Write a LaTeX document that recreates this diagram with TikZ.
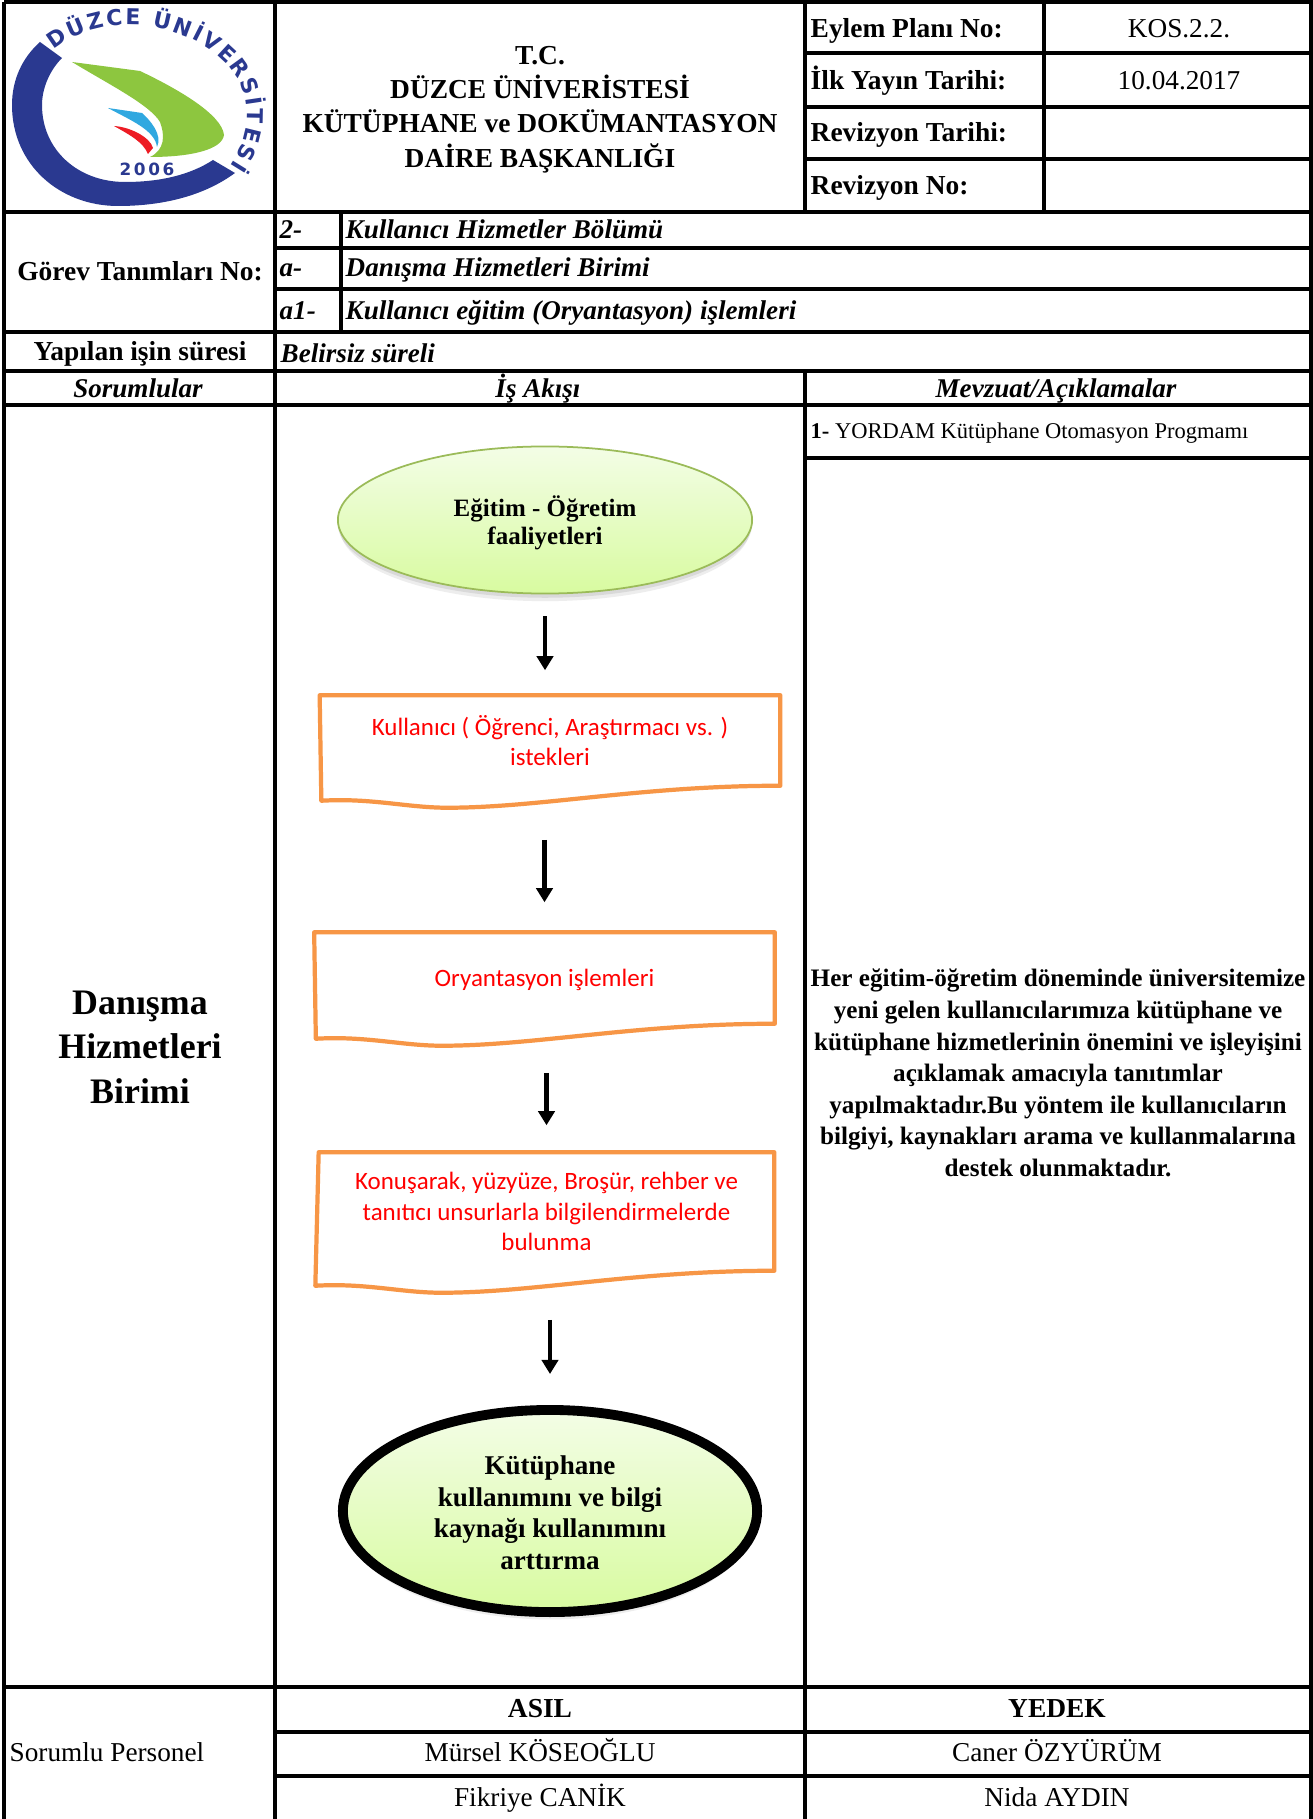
\documentclass[tikz,border=0pt]{standalone}
\usepackage{fontspec}
\setmainfont{Liberation Serif}
\newfontfamily\flowfont{Carlito}
\newfontfamily\logofont{DejaVu Sans}
\newfontfamily\yearfont{DejaVu Sans}[LetterSpace=15]
\usetikzlibrary{shapes.geometric,shadows,calc,arrows.meta,decorations.text}

\definecolor{logoblue}{HTML}{2A3990}
\definecolor{logogreen}{HTML}{8DC63F}
\definecolor{logosky}{HTML}{30A8E0}
\definecolor{logored}{HTML}{ED1C24}
\definecolor{boxorange}{HTML}{F79646}
\definecolor{leaftop}{HTML}{F3FDE6}
\definecolor{leafbot}{HTML}{D8FBA0}
\definecolor{leafline}{HTML}{9BBB59}

\tikzset{
  grid/.style={line width=1pt,black},
  head/.style={font=\fontsize{7.8}{10}\selectfont\bfseries,inner sep=0pt,text height=6.4pt,text depth=1.6pt},
  headit/.style={head,font=\fontsize{7.7}{10}\selectfont\bfseries\itshape},
  plain/.style={font=\fontsize{7.75}{10}\selectfont,inner sep=0pt,text height=6.4pt,text depth=1.6pt},
  startend/.style={ellipse,top color=leaftop,bottom color=leafbot,align=center,
    drop shadow={shadow xshift=0pt,shadow yshift=-2.4pt,shadow scale=.99,opacity=.14},
    drop shadow={shadow xshift=0pt,shadow yshift=-1.2pt,opacity=.18},
    font=\fontsize{7.1}{8}\selectfont\bfseries,inner sep=0pt},
  docbox/.style={rectangle,minimum width=#1,align=center,text=red,inner sep=0pt,
    font=\flowfont\fontsize{7.1}{8.6}\selectfont},
  docline/.style={boxorange,line width=1.2pt,line join=round},
  flowarrow/.style={line width=1.15pt,-{Triangle[length=4pt,width=4.6pt]}}
}
% document shape drawn round a node
\newcommand{\docshape}[1]{
  \draw[docline] (#1.north west) -- (#1.north east) -- (#1.south east)
    .. controls +(-140,0) and +(93,0) .. ++(-333,22)
    .. controls +(-40,0) and +(50,-3) .. ++(-126,-7) -- cycle;
}

\begin{document}
\begin{tikzpicture}[x=0.01cm,y=-0.01cm]
\useasboundingbox (0,0) rectangle (1313,1819);
\fill[white] (0,0) rectangle (1313,1819);

% Logo
\fill[logoblue] (40,42) .. controls (22,58) and (12,80) .. (12,105)
  .. controls (12,165) and (60,206) .. (118,206)
  .. controls (165,206) and (205,195) .. (235,173) -- (213,160)
  .. controls (190,175) and (160,182) .. (125,182)
  .. controls (78,182) and (42,150) .. (42,105)
  .. controls (42,88) and (50,70) .. (62,58) -- cycle;
\fill[logogreen] (72,62) -- (140,71) .. controls (180,90) and (222,115) .. (224,135)
  .. controls (222,150) and (190,157) .. (150,157)
  .. controls (165,150) and (165,135) .. (160,122)
  .. controls (150,105) and (110,85) .. (72,62);
\fill[logosky] (108,108) -- (142,113) .. controls (150,120) and (163,135) .. (157,147)
  .. controls (155,130) and (130,120) .. (108,108);
\fill[logored] (114,126) .. controls (130,127) and (150,137) .. (153,148) -- (148,154)
  .. controls (143,142) and (130,135) .. (114,126);
\path[decorate,decoration={text along path,text align={fit to path},
    text={|\logofont\fontsize{6.2}{7}\selectfont\bfseries\color{logoblue}|DÜZCE ÜNİVERSİTESİ}}]
  (54,50) .. controls (75,32) and (105,25) .. (130,25) .. controls (190,25) and (250,65) .. (247,115)
  .. controls (247,130) and (242,148) .. (230,166);
\node[text=logoblue,font=\yearfont\fontsize{4.8}{6}\selectfont\bfseries,inner sep=0pt] (year) at (147,169) {2006};

% Table lines
\draw[grid,line width=1.4pt] (4,2) -- (1311,2) -- (1311,1819);
\draw[grid,line width=1.4pt] (4,2) -- (4,1819);
\draw[grid] (275,2) -- (275,1819);
\draw[grid] (805,2) -- (805,212);
\draw[grid] (805,371) -- (805,1819);
\draw[grid] (1044,2) -- (1044,212);
\draw[grid] (341,212) -- (341,332);
\draw[grid] (805,53) -- (1311,53);
\draw[grid] (805,107) -- (1311,107);
\draw[grid] (805,159) -- (1311,159);
\draw[grid] (4,212) -- (1311,212);
\draw[grid] (275,248) -- (1311,248);
\draw[grid] (275,289) -- (1311,289);
\draw[grid] (4,332) -- (1311,332);
\draw[grid] (4,371) -- (1311,371);
\draw[grid] (4,405) -- (1311,405);
\draw[grid] (805,458) -- (1311,458);
\draw[grid] (4,1687) -- (1311,1687);
\draw[grid] (275,1732) -- (1311,1732);
\draw[grid] (275,1776) -- (1311,1776);

% Header
\node[align=center,inner sep=0pt,font=\fontsize{7.8}{9.8}\selectfont\bfseries] (title) at (540,109.5) {T.C.\\DÜZCE ÜNİVERİSTESİ\\KÜTÜPHANE ve DOKÜMANTASYON\\DAİRE BAŞKANLIĞI};
\node[head,anchor=west] (planlab) at (810,29) {Eylem Planı No:};
\node[head,anchor=west] (yayinlab) at (810,81) {İlk Yayın Tarihi:};
\node[head,anchor=west] (revlab) at (810,133) {Revizyon Tarihi:};
\node[head,anchor=west] (revnolab) at (810,186) {Revizyon No:};
\node[plain] (planval) at (1179,29) {KOS.2.2.};
\node[plain] (yayinval) at (1179,81) {10.04.2017};

% Task rows
\node[head] (gorev) at (140,272) {Görev Tanımları No:};
\node[headit,anchor=west] (r1) at (279,230) {2-};
\node[headit,anchor=west] (r2) at (279,268) {a-};
\node[headit,anchor=west] (r3) at (279,311) {a1-};
\node[headit,anchor=west] (t1) at (345,230) {Kullanıcı Hizmetler Bölümü};
\node[headit,anchor=west] (t2) at (345,268) {Danışma Hizmetleri Birimi};
\node[headit,anchor=west] (t3) at (345,311) {Kullanıcı eğitim (Oryantasyon) işlemleri};
\node[head] (sure) at (140,352) {Yapılan işin süresi};
\node[headit,anchor=west] (belirsiz) at (280,354) {Belirsiz süreli};
\node[headit] (sorumlu) at (138,389) {Sorumlular};
\node[headit] (akis) at (538,389) {İş Akışı};
\node[headit] (mevzuat) at (1056,389) {Mevzuat/Açıklamalar};

% Left and right columns
\node[align=center,inner sep=0pt,font=\fontsize{10.2}{12.7}\selectfont\bfseries] (birim) at (140,1047) {Danışma\\Hizmetleri\\Birimi};
\node[anchor=west,inner sep=0pt,text height=6pt,text depth=2pt,font=\fontsize{6.4}{8}\selectfont] (yordam) at (810,431) {\textbf{1-} YORDAM Kütüphane Otomasyon Progmamı};
\node[align=center,inner sep=0pt,font=\fontsize{7.15}{9}\selectfont\bfseries] (aciklama) at (1058,1073) {Her eğitim-öğretim döneminde üniversitemize\\yeni gelen kullanıcılarımıza kütüphane ve\\kütüphane hizmetlerinin önemini ve işleyişini\\açıklamak amacıyla tanıtımlar\\yapılmaktadır.Bu yöntem ile kullanıcıların\\bilgiyi, kaynakları arama ve kullanmalarına\\destek olunmaktadır.};

% Work flow
\node[startend,draw=leafline,line width=.5pt,minimum width=4.14cm,minimum height=1.47cm] (start) at (545,520) {\rule{0pt}{7.4pt}Eğitim - Öğretim\\faaliyetleri};
\node[docbox=4.59cm,minimum height=.89cm] (box1) at (550,740.5) {Kullanıcı ( Öğrenci, Araştırmacı vs. )\\istekleri};
\node[docbox=4.59cm,minimum height=.90cm] (box2) at (544.5,978) {\rule{0pt}{6.3pt}Oryantasyon işlemleri};
\node[docbox=4.54cm,minimum height=1.17cm] (box3) at (546.5,1211.5) {Konuşarak, yüzyüze, Broşür, rehber ve\\tanıtıcı unsurlarla bilgilendirmelerde\\bulunma};
\node[startend,draw=black,line width=2.8pt,minimum width=4.14cm,minimum height=2.02cm,font=\fontsize{7.7}{9}\selectfont\bfseries] (finish) at (550,1511) {\rule{0pt}{6.3pt}Kütüphane\\kullanımını ve bilgi\\kaynağı kullanımını\\arttırma};
\docshape{box1}
\docshape{box2}
\docshape{box3}
\draw[flowarrow,shorten <=.22cm,shorten >=.25cm] (start.south) -- (start.south |- box1.north);
\draw[flowarrow,shorten <=.54cm,shorten >=.30cm] (box1.south -| box2.north) -- (box2.north);
\draw[flowarrow,shorten <=.49cm,shorten >=.27cm] (box2.south -| box3.north) -- (box3.north);
\draw[flowarrow,shorten <=.49cm,shorten >=.31cm] (box3.south -| finish.north) -- (finish.north);

% Staff
\node[plain,anchor=west] (personel) at (9,1753) {Sorumlu Personel};
\node[head] (asil) at (540,1709) {ASIL};
\node[head] (yedek) at (1057,1709) {YEDEK};
\node[plain] (asil1) at (540,1753) {Mürsel KÖSEOĞLU};
\node[plain] (asil2) at (540,1798) {Fikriye CANİK};
\node[plain] (yedek1) at (1057,1753) {Caner ÖZYÜRÜM};
\node[plain] (yedek2) at (1057,1798) {Nida AYDIN};
\end{tikzpicture}
\end{document}
